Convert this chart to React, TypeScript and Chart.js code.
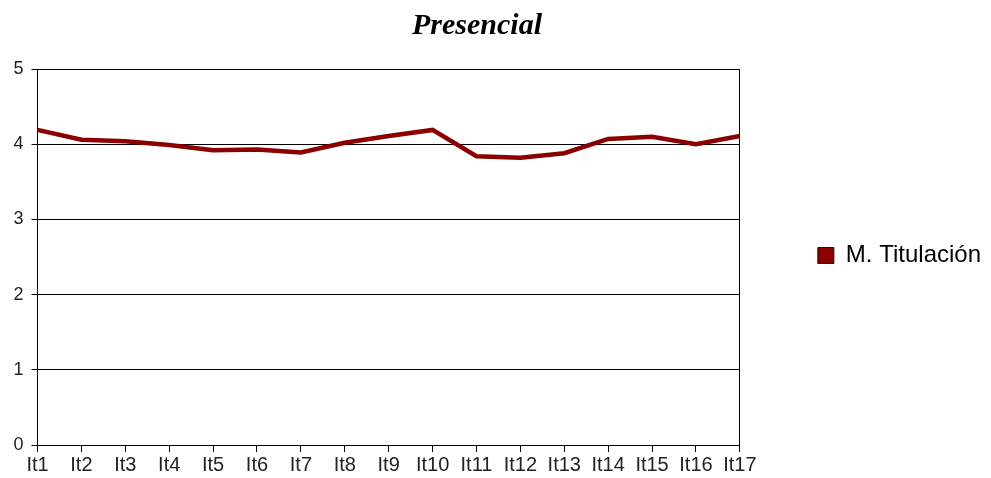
import React, { useEffect, useRef } from "react";
import { Chart, registerables } from "chart.js";

Chart.register(...registerables);

const categories = ["It1", "It2", "It3", "It4", "It5", "It6", "It7", "It8", "It9", "It10", "It11", "It12", "It13", "It14", "It15", "It16", "It17"];
const seriesName = "M. Titulación";
const seriesValues = [4.19, 4.06, 4.04, 3.99, 3.92, 3.93, 3.89, 4.02, 4.11, 4.19, 3.84, 3.82, 3.88, 4.07, 4.1, 4.0, 4.11];
const yTicks = [0, 1, 2, 3, 4, 5];
const titleText = "Presencial";

const titlePlugin = {
  id: "customTitle",
  afterLayout(chart: any) {
    const lg = chart.legend;
    if (lg) {
      lg.top -= 18;
      lg.bottom -= 18;
    }
  },
  afterDraw(chart: any) {
    const ctx = chart.ctx;
    ctx.save();
    ctx.font = "bold italic 30px 'Liberation Serif', 'Times New Roman', serif";
    ctx.fillStyle = "#000";
    ctx.textAlign = "center";
    ctx.textBaseline = "middle";
    ctx.fillText(titleText, 477, 26);
    ctx.restore();
  },
};

export default function App() {
  const ref = useRef<HTMLCanvasElement | null>(null);
  useEffect(() => {
    if (!ref.current) return;
    const chart = new Chart(ref.current, {
      type: "line",
      data: {
        labels: categories,
        datasets: [
          {
            label: seriesName,
            data: seriesValues,
            borderColor: "#8B0000",
            backgroundColor: "#8B0000",
            borderWidth: 4.5,
            pointRadius: 0,
            tension: 0,
          },
        ],
      },
      options: {
        animation: false,
        responsive: true,
        maintainAspectRatio: false,
        layout: { padding: { top: 69, left: 5.5, right: 0, bottom: 0 } },
        plugins: {
          title: { display: false },
          tooltip: { enabled: false },
          legend: {
            display: true,
            position: "right",
            maxWidth: 260,
            labels: {
              boxWidth: 16,
              boxHeight: 16,
              padding: 10,
              color: "#333",
              font: { family: "'Liberation Sans', Arial, sans-serif", size: 24 },
              generateLabels: () => [
                {
                  text: seriesName,
                  fillStyle: "#8B0000",
                  strokeStyle: "#3a0000",
                  lineWidth: 1,
                  hidden: false,
                  datasetIndex: 0,
                },
              ],
            },
          },
        },
        scales: {
          x: {
            offset: false,
            grid: {
              display: true,
              drawOnChartArea: false,
              drawTicks: true,
              tickLength: 7,
              color: "#000",
              offset: false,
            },
            border: { display: true, color: "#000", width: 1 },
            ticks: {
              color: "#222",
              padding: 1,
              maxRotation: 0,
              autoSkip: false,
              font: { family: "'Liberation Sans', Arial, sans-serif", size: 20 },
            },
          },
          y: {
            min: 0,
            max: 5,
            afterBuildTicks: (scale: any) => {
              scale.ticks = yTicks.map((v) => ({ value: v }));
            },
            grid: { color: "#000", lineWidth: 1, tickLength: 6 },
            border: { display: true, color: "#000", width: 1 },
            ticks: {
              color: "#222",
              padding: 8,
              font: { family: "'Liberation Sans', Arial, sans-serif", size: 18 },
            },
          },
          y2: {
            type: "linear",
            position: "right",
            min: 0,
            max: 5,
            grid: { drawOnChartArea: false, drawTicks: false },
            border: { display: true, color: "#000", width: 1 },
            ticks: { display: false },
            afterFit: (scale: any) => {
              scale.width = 68;
            },
          },
        },
      },
      plugins: [titlePlugin],
    } as any);
    return () => chart.destroy();
  }, []);
  return (
    <div style={{ position: "absolute", left: 0, top: 0, width: 991, height: 478 }}>
      <canvas ref={ref} />
    </div>
  );
}
